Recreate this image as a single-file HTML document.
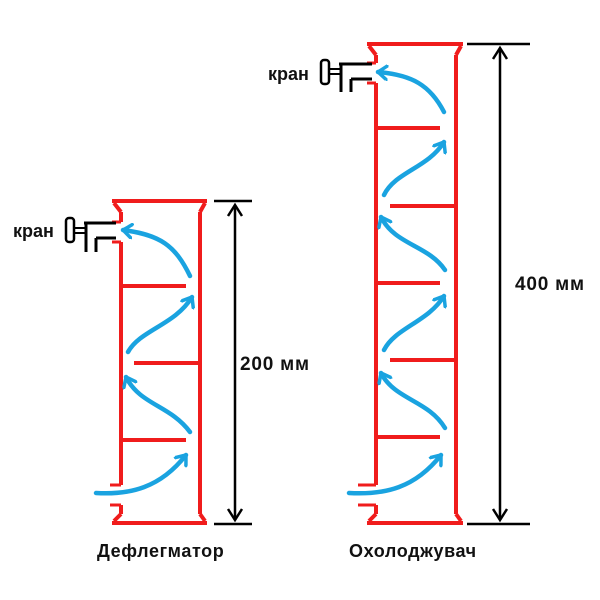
<!DOCTYPE html>
<html><head><meta charset="utf-8"><style>
html,body{margin:0;padding:0;background:#fff;width:600px;height:600px;overflow:hidden}
svg{display:block}
text{font-family:"Liberation Sans",sans-serif;font-weight:bold;fill:#111}
</style></head><body>
<svg width="600" height="600" viewBox="0 0 600 600" xmlns="http://www.w3.org/2000/svg">
<defs>
<marker id="ab" markerWidth="16" markerHeight="16" refX="10" refY="8" orient="auto" markerUnits="userSpaceOnUse" viewBox="0 0 16 16">
<polyline points="1,1 10,8 1,15" fill="none" stroke="#1aa3e0" stroke-width="3.5" stroke-linecap="round" stroke-linejoin="round"/>
</marker>
</defs>

<!-- LEFT COLUMN -->
<g stroke="#f01c1c" stroke-width="4" fill="none">
<path d="M112 201 H207 M114 203 L121 212 M205 203 L200 212"/>
<path d="M121 212 V222 M121 242 V485 M121 505 V514 M200 212 V514"/>
<path d="M112 523 H207 M114 521 L121 514 M205 521 L200 514"/>
<path d="M121 286 H186 M134 363 H200 M121 440 H186"/>
<path d="M112 222 H121 M112 242 H121 M110 485 H121 M110 505 H121" stroke-width="3"/>
</g>
<g stroke="#000" fill="none" stroke-width="3">
<path d="M84 223 H116 M86 223 V252 M96 238 H116 M96 238 V252"/>
<rect x="66" y="218" width="8" height="24" rx="3" stroke-width="2.5" fill="#fff"/>
<path d="M74 228 H86 M74 233 H86" stroke-width="2"/>
</g>
<text x="13" y="237" font-size="18">кран</text>
<g stroke="#1aa3e0" stroke-width="4.5" fill="none" stroke-linecap="round" marker-end="url(#ab)">
<path d="M96 493 C130 495 160 488 186 455"/>
<path d="M190 432 C170 405 140 405 126 377"/>
<path d="M128 352 C140 330 175 325 192 297"/>
<path d="M190 276 C175 245 160 235 123 230"/>
</g>
<g stroke="#000" stroke-width="2.5" fill="none">
<path d="M214 201 H252 M214 524 H252"/>
<path d="M235 206 V519"/>
<polyline points="228,216 235,205 242,216"/>
<polyline points="228,509 235,520 242,509"/>
</g>
<text x="240" y="370" font-size="19" letter-spacing="0.8">200 мм</text>
<text x="97" y="557" font-size="18" letter-spacing="0.6">Дефлегматор</text>

<!-- RIGHT COLUMN -->
<g stroke="#f01c1c" stroke-width="4" fill="none">
<path d="M367 44 H463 M369 46 L376 55 M461 46 L456 55"/>
<path d="M376 55 V63 M376 83 V485 M376 505 V514 M456 55 V514"/>
<path d="M367 523 H463 M369 521 L376 514 M461 521 L456 514"/>
<path d="M376 128 H440 M390 206 H456 M376 283 H440 M390 360 H456 M376 437 H440"/>
<path d="M367 63 H376 M367 83 H376 M358 485 H376 M358 505 H376" stroke-width="3"/>
</g>
<g stroke="#000" fill="none" stroke-width="3">
<path d="M339 64 H372 M341 64 V92 M351 79 H372 M351 79 V92"/>
<rect x="321" y="60" width="8" height="24" rx="3" stroke-width="2.5" fill="#fff"/>
<path d="M329 69 H341 M329 74 H341" stroke-width="2"/>
</g>
<text x="268" y="80" font-size="18">кран</text>
<g stroke="#1aa3e0" stroke-width="4.5" fill="none" stroke-linecap="round" marker-end="url(#ab)">
<path d="M349 493 C385 495 415 488 441 455"/>
<path d="M445 428 C428 400 395 400 381 373"/>
<path d="M384 350 C395 328 428 322 444 296"/>
<path d="M445 270 C428 245 395 245 381 217"/>
<path d="M384 195 C395 172 428 168 444 142"/>
<path d="M444 112 C430 85 412 75 378 72"/>
</g>
<g stroke="#000" stroke-width="2.5" fill="none">
<path d="M467 44 H530 M467 524 H530"/>
<path d="M500 49 V519"/>
<polyline points="493,59 500,48 507,59"/>
<polyline points="493,509 500,520 507,509"/>
</g>
<text x="515" y="290" font-size="19" letter-spacing="0.8">400 мм</text>
<text x="349" y="557" font-size="18" letter-spacing="0.6">Охолоджувач</text>
</svg>
</body></html>
